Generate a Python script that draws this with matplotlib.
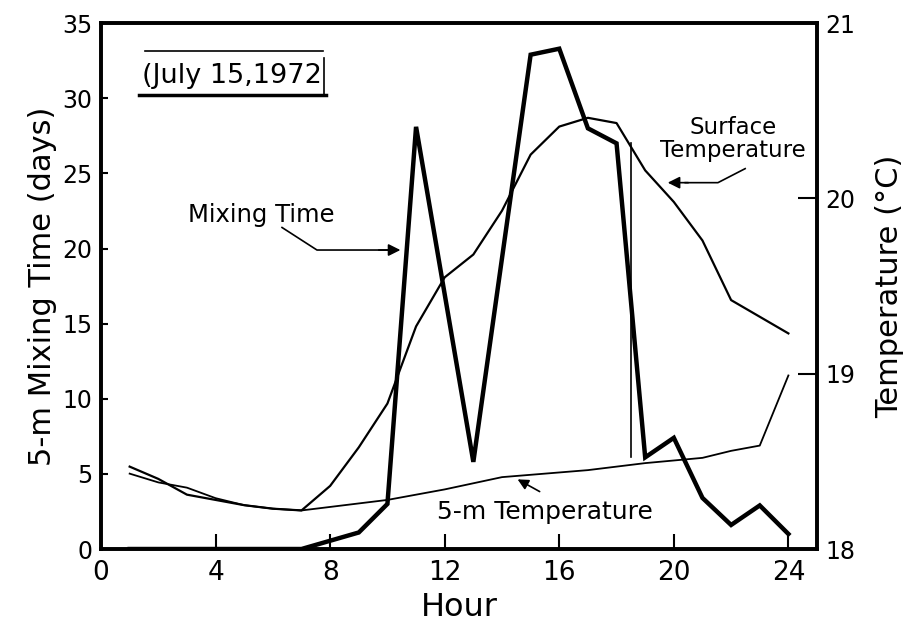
import matplotlib.pyplot as plt

# mixing time at 5 m (days), left axis
mix_hours = [1, 2, 3, 4, 5, 6, 7, 9, 10, 11, 13, 15, 16, 17, 18, 19, 20, 21, 22, 23, 24]
mix_days = [0, 0, 0, 0, 0, 0, 0, 1.1, 3.0, 28.1, 5.8, 32.9, 33.3, 28.0, 27.0, 6.1, 7.4, 3.4, 1.6, 2.9, 1.0]

# surface temperature (deg C), right axis
surf_hours = [1, 2, 3, 4, 5, 6, 7, 8, 9, 10, 11, 12, 13, 14, 15, 16, 17, 18, 19, 20, 21, 22, 24]
surf_temp = [18.47, 18.40, 18.31, 18.28, 18.25, 18.23, 18.22, 18.36, 18.58, 18.83, 19.27, 19.55,
             19.68, 19.93, 20.25, 20.41, 20.46, 20.43, 20.16, 19.98, 19.76, 19.42, 19.23]

# 5-m temperature (deg C), right axis
deep_hours = [1, 2, 3, 4, 5, 6, 7, 10, 12, 14, 17, 19, 21, 22, 23, 24]
deep_temp = [18.43, 18.38, 18.35, 18.29, 18.25, 18.23, 18.22, 18.28, 18.34, 18.41, 18.45, 18.49,
             18.52, 18.56, 18.59, 18.99]

# stray vertical drafting line at hour 18.5
stray_x = [18.5, 18.5]
stray_y = [6.1, 27.0]

x_ticks = [0, 4, 8, 12, 16, 20, 24]
left_ticks = [0, 5, 10, 15, 20, 25, 30, 35]
right_ticks = [18, 19, 20, 21]

fig = plt.figure(figsize=(9.06, 6.26), dpi=100)
ax = fig.add_axes([0.1115, 0.123, 0.7903, 0.840])
ax2 = ax.twinx()

ax.plot(mix_hours, mix_days, c='black', lw=3.2, solid_joinstyle='miter')
ax.plot(stray_x, stray_y, c='black', lw=1.2)
ax2.plot(surf_hours, surf_temp, c='black', lw=1.6)
ax2.plot(deep_hours, deep_temp, c='black', lw=1.3)

ax.set_xlim(0, 25)
ax.set_ylim(0, 35)
ax2.set_ylim(18, 21)

ax.set_xticks(x_ticks)
ax.set_yticks(left_ticks)
ax2.set_yticks(right_ticks)

for s in ax.spines.values():
    s.set_linewidth(2.6)
for s in ax2.spines.values():
    s.set_linewidth(2.6)

ax.tick_params(axis='x', direction='in', length=11, width=1.5, labelsize=19, pad=8)
ax.tick_params(axis='y', direction='in', length=5, width=1.5, labelsize=17, pad=6)
ax2.tick_params(axis='y', direction='in', length=14, width=1.5, labelsize=17, pad=6)

ax.set_xlabel("Hour", fontsize=23, labelpad=4)
ax.set_ylabel("5-m Mixing Time (days)", fontsize=22, labelpad=4)
ax2.set_ylabel("Temperature (°C)", fontsize=22, labelpad=14)

# label for mixing time
ax.plot([6.32, 7.54, 10.3], [21.4, 19.9, 19.9], c='black', lw=1.2)
ax.annotate("", xy=(10.55, 19.9), xytext=(9.6, 19.9),
            arrowprops=dict(arrowstyle='-|>', color='black', lw=1.2, mutation_scale=18))
ax.text(5.6, 22.2, "Mixing Time", fontsize=17.5, ha='center', va='center')

# label for surface temperature
ax2.plot([22.49, 21.54, 20.4], [20.17, 20.09, 20.09], c='black', lw=1.2)
ax2.annotate("", xy=(19.69, 20.09), xytext=(20.6, 20.09),
             arrowprops=dict(arrowstyle='-|>', color='black', lw=1.2, mutation_scale=18))
ax2.text(22.07, 20.34, "Surface\nTemperature", fontsize=16.5, ha='center', va='center',
         linespacing=1.0)

# label for 5-m temperature
ax2.annotate("", xy=(14.46, 18.405), xytext=(15.4, 18.32),
             arrowprops=dict(arrowstyle='-|>', color='black', lw=1.2, mutation_scale=16))
ax2.text(15.5, 18.212, "5-m Temperature", fontsize=18, ha='center', va='center')

# date box
ax.text(0.183, 0.900, "(July 15,1972", transform=ax.transAxes, fontsize=19.5,
        ha='center', va='center')
ax.plot([0.061, 0.310], [0.947, 0.947], c='black', lw=1.2, transform=ax.transAxes)
ax.plot([0.053, 0.314], [0.863, 0.863], c='black', lw=2.5, transform=ax.transAxes)
ax.plot([0.311, 0.311], [0.863, 0.933], c='black', lw=1.2, transform=ax.transAxes)

fig.savefig("out.png", dpi=100)
